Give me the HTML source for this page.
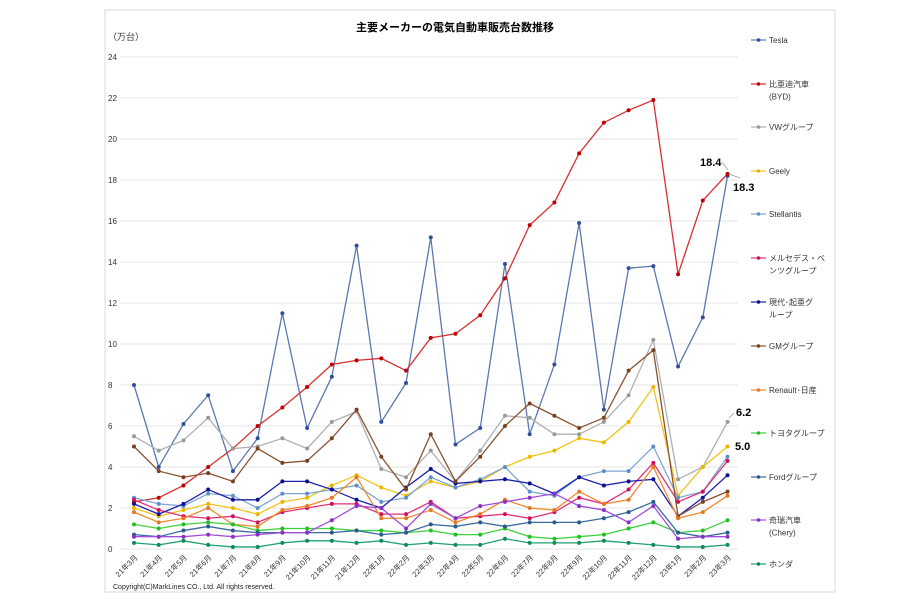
<!DOCTYPE html>
<html><head><meta charset="utf-8"><style>
body{margin:0;background:#fff;width:900px;height:600px;overflow:hidden}
svg text{font-family:"Liberation Sans","Noto Sans CJK JP",sans-serif}
</style></head><body>
<svg id="c" width="900" height="600" xmlns="http://www.w3.org/2000/svg">
<rect x="105" y="10" width="730" height="582" fill="#fff" stroke="#d9d9d9"/>
<text x="455" y="31" font-size="11" font-weight="bold" text-anchor="middle" fill="#000">主要メーカーの電気自動車販売台数推移</text>
<text x="108" y="40" font-size="9" fill="#333">（万台）</text>
<g id="grid"></g><g id="series"></g><g id="legend"></g>
<text x="113" y="589" font-size="7" fill="#222">Copyright(C)MarkLines CO., Ltd. All rights reserved.</text>
<text x="700" y="166" font-size="11" font-weight="bold">18.4</text>
<line x1="722" y1="162" x2="728" y2="170" stroke="#999" stroke-width="0.7"/>
<text x="733" y="191" font-size="11" font-weight="bold">18.3</text>
<line x1="729" y1="174" x2="740" y2="178" stroke="#999" stroke-width="0.7"/>
<text x="736" y="416" font-size="11" font-weight="bold">6.2</text>
<line x1="729" y1="418" x2="734" y2="413" stroke="#999" stroke-width="0.7"/>
<text x="735" y="450" font-size="11" font-weight="bold">5.0</text>
</svg>
<script>
const NS="http://www.w3.org/2000/svg";
function el(t,a,p,txt){const e=document.createElementNS(NS,t);for(const k in a)e.setAttribute(k,a[k]);if(txt!=null)e.textContent=txt;p.appendChild(e);return e;}
const X=i=>134+24.73*i, Y=v=>549-20.5*v;
const g=document.getElementById('grid');
for(let v=0;v<=24;v+=2){el('line',{x1:120,x2:738,y1:Y(v),y2:Y(v),stroke:'#e4e4e4','stroke-width':1},g);
el('text',{x:108,y:Y(v)+3,'font-size':8,fill:'#333'},g,String(v));}
const months=[];for(let i=0;i<25;i++){let m=3+i,y=21+Math.floor((m-1)/12);m=((m-1)%12)+1;months.push(y+'年'+m+'月');}
months.forEach((m,i)=>{el('text',{x:X(i)+4,y:558,'font-size':7.5,fill:'#333','text-anchor':'end',transform:`rotate(-45 ${X(i)+4} 558)`},g,m);});
const S=[
["Tesla","#5b78b0","#2f4f9a",[8.0,4.0,6.1,7.5,3.8,5.4,11.5,5.9,8.4,14.8,6.2,8.1,15.2,5.1,5.9,13.9,5.6,9.0,15.9,6.8,13.7,13.8,8.9,11.3,18.2]],
["比亜迪汽車|(BYD)","#d83030","#c00000",[2.3,2.5,3.1,4.0,4.9,6.0,6.9,7.9,9.0,9.2,9.3,8.7,10.3,10.5,11.4,13.2,15.8,16.9,19.3,20.8,21.4,21.9,13.4,17.0,18.3]],
["VWグループ","#b0b0b0","#999",[5.5,4.8,5.3,6.4,4.9,5.0,5.4,4.9,6.2,6.7,3.9,3.5,4.8,3.3,4.8,6.5,6.4,5.6,5.6,6.2,7.5,10.2,3.4,4.0,6.2]],
["Geely","#f2c418","#e8b800",[2.0,1.6,1.9,2.2,2.0,1.7,2.3,2.5,3.1,3.6,3.0,2.6,3.3,3.0,3.3,4.0,4.5,4.8,5.4,5.2,6.2,7.9,2.6,4.0,5.0]],
["Stellantis","#7fa7d4","#5f8fc8",[2.5,2.2,2.1,2.7,2.6,2.0,2.7,2.7,2.9,3.1,2.3,2.5,3.5,3.0,3.4,4.0,2.8,2.6,3.5,3.8,3.8,5.0,2.5,2.8,4.5]],
["メルセデス・ベ|ンツグループ","#e0307a","#d0105a",[2.4,1.9,1.6,1.5,1.6,1.3,1.8,2.0,2.2,2.2,1.7,1.7,2.3,1.5,1.6,1.7,1.5,1.8,2.5,2.2,2.9,4.2,2.3,2.8,4.3]],
["現代･起亜グ|ループ","#1c22a8","#0a108f",[2.2,1.7,2.2,2.9,2.4,2.4,3.3,3.3,2.9,2.4,2.0,3.0,3.9,3.2,3.3,3.4,3.2,2.7,3.5,3.1,3.3,3.4,1.6,2.5,3.6]],
["GMグループ","#8a5230","#7a4020",[5.0,3.8,3.5,3.7,3.3,4.9,4.2,4.3,5.4,6.8,4.5,2.9,5.6,3.3,4.5,6.0,7.1,6.5,5.9,6.4,8.7,9.7,1.6,2.3,2.8]],
["Renault･日産","#f08a30","#e87820",[1.8,1.3,1.5,2.0,1.2,1.1,1.9,2.1,2.5,3.5,1.5,1.5,1.9,1.3,1.7,2.4,2.0,1.9,2.8,2.2,2.4,4.0,1.5,1.8,2.6]],
["トヨタグループ","#40d040","#20c020",[1.2,1.0,1.2,1.3,1.2,0.9,1.0,1.0,1.0,0.9,0.9,0.8,0.9,0.7,0.7,1.0,0.6,0.5,0.6,0.7,1.0,1.3,0.8,0.9,1.4]],
["Fordグループ","#3a6aa0","#285a90",[0.7,0.6,0.9,1.1,0.9,0.8,0.8,0.8,0.8,0.9,0.7,0.8,1.2,1.1,1.3,1.1,1.3,1.3,1.3,1.5,1.8,2.3,0.8,0.6,0.8]],
["奇瑞汽車|(Chery)","#a050d8","#8a30c8",[0.6,0.6,0.6,0.7,0.6,0.7,0.8,0.8,1.4,2.1,2.0,1.0,2.2,1.5,2.1,2.3,2.5,2.7,2.1,1.9,1.3,2.1,0.5,0.6,0.6]],
["ホンダ","#20a070","#108a5a",[0.3,0.2,0.4,0.2,0.1,0.1,0.3,0.4,0.4,0.3,0.4,0.2,0.3,0.2,0.2,0.5,0.3,0.3,0.3,0.4,0.3,0.2,0.1,0.1,0.2]]
];
const sg=document.getElementById('series'),lg=document.getElementById('legend');
const ly=[40,84,127,171,214,258,302,346,390,433,477,520,564];
S.forEach((s,k)=>{
 el('polyline',{points:s[3].map((v,i)=>X(i)+','+Y(v)).join(' '),fill:'none',stroke:s[1],'stroke-width':1.3},sg);
 s[3].forEach((v,i)=>el('circle',{cx:X(i),cy:Y(v),r:2,fill:s[2]},sg));
 el('line',{x1:751,x2:766,y1:ly[k],y2:ly[k],stroke:s[1],'stroke-width':1.2},lg);
 el('circle',{cx:758.5,cy:ly[k],r:1.8,fill:s[2]},lg);
 s[0].split('|').forEach((t,j)=>el('text',{x:769,y:ly[k]+3+j*12.5,'font-size':8,fill:'#333'},lg,t));
});
</script>
</body></html>
